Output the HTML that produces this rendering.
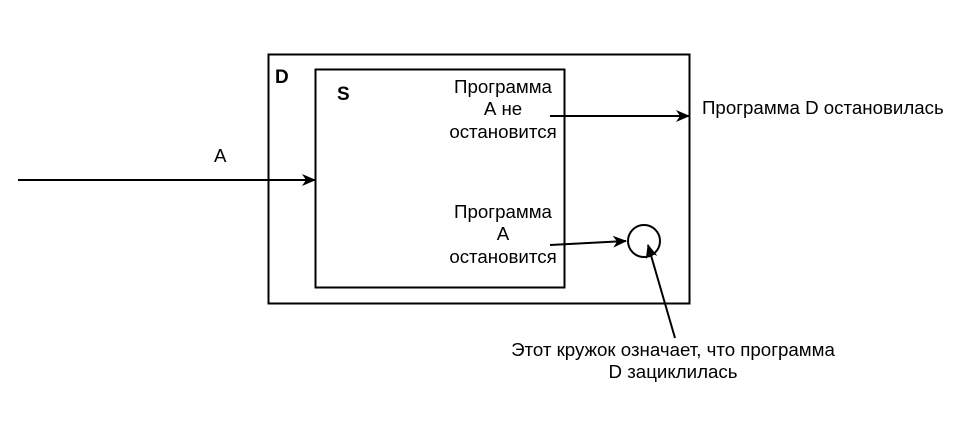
<!DOCTYPE html>
<html><head><meta charset="utf-8"><style>
body{margin:0;background:#fff;}
svg text{font-family:"Liberation Sans",sans-serif;font-size:18.7px;fill:#000;}
</style></head><body>
<svg width="960" height="427" xmlns="http://www.w3.org/2000/svg">
<defs><marker id="a" markerWidth="14" markerHeight="12" refX="13" refY="6" orient="auto" markerUnits="userSpaceOnUse"><path d="M0,0 L14,6 L0,12 L4,6 Z" fill="#000"/></marker></defs>
<rect x="268.5" y="54.5" width="421" height="249" fill="none" stroke="#000" stroke-width="2"/>
<rect x="315.5" y="69.5" width="249" height="218" fill="none" stroke="#000" stroke-width="2"/>
<text x="275" y="83" style="font-weight:bold;font-size:19px">D</text>
<text x="337" y="100" style="font-weight:bold;font-size:19px">S</text>
<g text-anchor="middle">
<text x="503" y="93">Программа</text>
<text x="503" y="115">А не</text>
<text x="503" y="138">остановится</text>
<text x="503" y="218">Программа</text>
<text x="503" y="240">А</text>
<text x="503" y="263">остановится</text>
<text x="673" y="356">Этот кружок означает, что программа</text>
<text x="673" y="378">D зациклилась</text>
</g>
<text x="702" y="114">Программа D остановилась</text>
<text x="214" y="162">A</text>
<line x1="18" y1="180" x2="315" y2="180" stroke="#000" stroke-width="2" marker-end="url(#a)"/>
<line x1="550" y1="116" x2="689" y2="116" stroke="#000" stroke-width="2" marker-end="url(#a)"/>
<line x1="550" y1="245" x2="626" y2="241" stroke="#000" stroke-width="2" marker-end="url(#a)"/>
<circle cx="644" cy="241" r="16" fill="none" stroke="#000" stroke-width="2"/>
<line x1="675" y1="338" x2="648" y2="245" stroke="#000" stroke-width="2" marker-end="url(#a)"/>
</svg>
</body></html>
